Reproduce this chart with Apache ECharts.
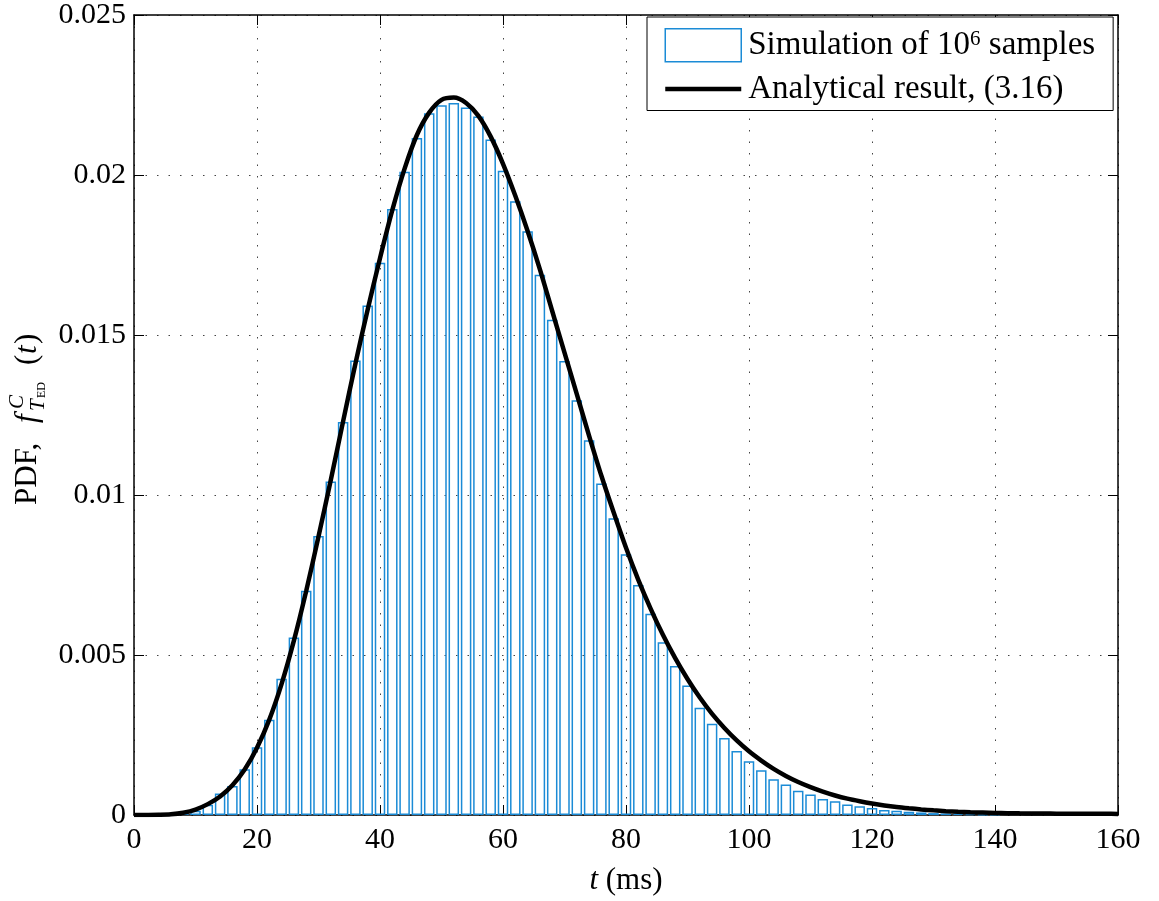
<!DOCTYPE html>
<html>
<head>
<meta charset="utf-8">
<script src="https://cdn.jsdelivr.net/npm/echarts@6/dist/echarts.min.js"></script>
<style>
  html, body { margin: 0; padding: 0; background: #fff; }
  #chart { width: 1159px; height: 901px; }
</style>
</head>
<body>
<div id="chart"></div>
<script>
// histogram bin centres (ms) and heights
var binCenters = [8, 10, 12, 14, 16, 18, 20, 22, 24, 26, 28, 30, 32, 34, 36, 38, 40, 42, 44, 46, 48,
  50, 52, 54, 56, 58, 60, 62, 64, 66, 68, 70, 72, 74, 76, 78, 80, 82, 84, 86, 88, 90, 92, 94, 96, 98,
  100, 102, 104, 106, 108, 110, 112, 114, 116, 118, 120, 122, 124, 126, 128, 130, 132, 134, 136, 138, 140];
var binHeights = [0.00005, 0.00013, 0.00032, 0.00067, 0.00091, 0.00143, 0.00212, 0.00298, 0.00426, 0.00555,
  0.00701, 0.00872, 0.01042, 0.01228, 0.0142, 0.01592, 0.01726, 0.01894, 0.0201, 0.02116, 0.02193,
  0.02218, 0.02225, 0.02211, 0.02183, 0.02111, 0.02013, 0.01918, 0.01824, 0.01688, 0.01548, 0.01419,
  0.01296, 0.01171, 0.01036, 0.00927, 0.00815, 0.00719, 0.00629, 0.0054, 0.00466, 0.00405, 0.00335,
  0.00285, 0.00241, 0.002, 0.00168, 0.0014, 0.00112, 0.00095, 0.00076, 0.00064, 0.0005, 0.00043,
  0.00033, 0.00027, 0.00022, 0.00016, 0.00013, 0.0001, 0.00008, 0.00006, 0.00005, 0.00004, 0.00003,
  0.00002, 0.00002];

// analytical curve samples
var curveT = [0, 2, 4, 6, 8, 10, 12, 14, 16, 18, 20, 22, 24, 26, 28, 30, 32, 34, 36, 38, 40, 42, 44, 46,
  48, 50, 52, 54, 56, 58, 60, 62, 64, 66, 68, 70, 72, 74, 76, 78, 80, 82, 84, 86, 88, 90, 92, 94, 96,
  98, 100, 102, 104, 106, 108, 110, 112, 114, 116, 118, 120, 122, 124, 126, 128, 130, 132, 134, 136,
  138, 140, 142, 144, 146, 148, 150, 152, 154, 156, 158, 160];
var curveF = [0, 0.000001, 0.000005, 0.00002, 0.00007, 0.00017, 0.00034, 0.00058, 0.00093, 0.00142,
  0.0021, 0.00298, 0.0041, 0.00545, 0.007, 0.0087, 0.01047, 0.0123, 0.0141, 0.0158, 0.0174, 0.0189,
  0.0202, 0.02125, 0.02195, 0.02235, 0.02242, 0.02225, 0.02185, 0.0212, 0.02035, 0.01935, 0.01825,
  0.01705, 0.01575, 0.01445, 0.01315, 0.01185, 0.0106, 0.00945, 0.00835, 0.00735, 0.00645, 0.00563,
  0.0049, 0.00425, 0.00367, 0.00316, 0.00272, 0.00233, 0.00199, 0.0017, 0.00144, 0.00122, 0.00103,
  0.00087, 0.00073, 0.00061, 0.00051, 0.00043, 0.00036, 0.0003, 0.00025, 0.00021, 0.000175, 0.000145,
  0.00012, 0.0001, 0.000085, 0.000075, 0.000065, 0.000058, 0.000052, 0.000048, 0.000045, 0.000042,
  0.00004, 0.000038, 0.000037, 0.000036, 0.000035];

var xTicks = { min: 0, max: 160, interval: 20 };
var yTicks = { min: 0, max: 0.025, interval: 0.005 };

var histName = 'Simulation of 10^6 samples';
var curveName = 'Analytical result, (3.16)';

var FONT = 'Liberation Serif';
var BLUE = '#1b8bd6';

var chart = echarts.init(document.getElementById('chart'));

function axisBase(pos, showLabel) {
  return {
    type: 'value',
    position: pos,
    axisLine: { show: true, onZero: false, lineStyle: { color: '#000', width: 1.5 } },
    axisTick: { show: true, inside: true, length: 10, lineStyle: { color: '#000', width: 1 } },
    axisLabel: { show: showLabel, color: '#000', fontFamily: FONT, fontSize: 30 },
    splitLine: { show: false }
  };
}

var xBottom = Object.assign(axisBase('bottom', true), xTicks, {
  axisLabel: { show: true, color: '#000', fontFamily: FONT, fontSize: 30, margin: 10 },
  splitLine: { show: true, lineStyle: { color: '#444', width: 1, type: [1.5, 10] } },
  name: '{i|t} (ms)',
  nameLocation: 'middle',
  nameGap: 50,
  nameTextStyle: {
    color: '#000', fontFamily: FONT, fontSize: 31,
    rich: { i: { fontFamily: FONT, fontSize: 31, fontStyle: 'italic', color: '#000' } }
  }
});
var xTop = Object.assign(axisBase('top', false), xTicks);
var yLeft = Object.assign(axisBase('left', true), yTicks, {
  axisLabel: { show: true, color: '#000', fontFamily: FONT, fontSize: 30, margin: 8 },
  splitLine: { show: true, lineStyle: { color: '#444', width: 1, type: [1.5, 10] } }
});
var yRight = Object.assign(axisBase('right', false), yTicks);

var histData = binCenters.map(function (t, i) { return [t, binHeights[i]]; });
var curveData = curveT.map(function (t, i) { return [t, curveF[i]]; });

// rotated y axis title, built from pieces
function yPiece(text, x, y, size, italic) {
  return {
    type: 'text', x: x, y: y,
    style: {
      text: text, fill: '#000',
      font: (italic ? 'italic ' : '') + size + 'px "' + FONT + '"',
      textAlign: 'left', textVerticalAlign: 'middle'
    }
  };
}

chart.setOption({
  animation: false,
  backgroundColor: '#fff',
  grid: { left: 134, right: 41, top: 10, bottom: 85, containLabel: false },
  xAxis: [xBottom, xTop],
  yAxis: [yLeft, yRight],
  legend: {
    orient: 'vertical',
    left: 647,
    top: 17,
    align: 'left',
    padding: [11, 18, 5, 16],
    itemGap: 10,
    itemWidth: 76,
    itemHeight: 33,
    backgroundColor: '#fff',
    borderColor: '#000',
    borderWidth: 1,
    borderRadius: 0,
    data: [
      { name: histName, icon: 'rect', itemStyle: { color: '#fff', borderColor: BLUE, borderWidth: 1.5 } },
      { name: curveName, itemStyle: { opacity: 0 }, lineStyle: { color: '#000', width: 4.5, opacity: 1 } }
    ],
    formatter: function (name) {
      if (name === histName) return '{a|Simulation of 10}{s|6}{a| samples}';
      return '{a|' + name + '}';
    },
    textStyle: {
      color: '#000', fontFamily: FONT, fontSize: 33, padding: [0, 0, 0, 2],
      rich: {
        a: { fontFamily: FONT, fontSize: 33, color: '#000', lineHeight: 33 },
        s: { fontFamily: FONT, fontSize: 21, color: '#000', verticalAlign: 'top', lineHeight: 18 }
      }
    }
  },
  graphic: [{
    type: 'group',
    x: 28, y: 505,
    rotation: Math.PI / 2,
    children: [
      yPiece('PDF,', 0, 0, 31, false),
      yPiece('f', 82, 0, 31, true),
      yPiece('C', 96, -11, 21, true),
      yPiece('T', 94, 10, 21, true),
      yPiece('ED', 107, 14, 12, false),
      yPiece('(', 140, 0, 31, false),
      yPiece('t', 151, 0, 31, true),
      yPiece(')', 161, 0, 31, false)
    ]
  }],
  series: [
    {
      name: histName,
      type: 'bar',
      xAxisIndex: 0, yAxisIndex: 0,
      barWidth: 10.5,
      data: histData,
      itemStyle: { color: 'rgba(255,255,255,0)', borderColor: BLUE, borderWidth: 1.5 },
      z: 2
    },
    {
      name: curveName,
      type: 'line',
      xAxisIndex: 0, yAxisIndex: 0,
      data: curveData,
      smooth: 0.3,
      showSymbol: false,
      symbol: 'none',
      lineStyle: { color: '#000', width: 4.5 },
      z: 3
    }
  ]
});
</script>
</body>
</html>
